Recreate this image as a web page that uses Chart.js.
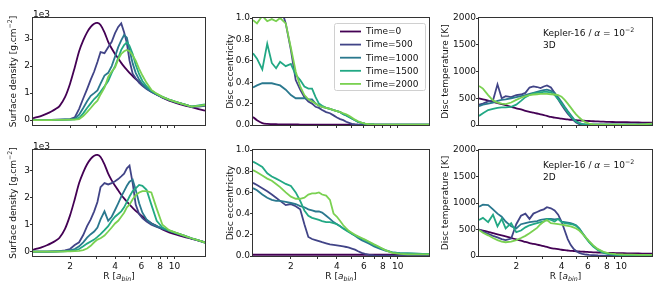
<!DOCTYPE html>
<html>
<head>
<meta charset="utf-8">
<script src="https://cdn.jsdelivr.net/npm/chart.js@4.4.1/dist/chart.umd.min.js"></script>
<style>
  html, body { margin: 0; padding: 0; background: #fff; }
  #wrap { position: relative; width: 664px; height: 291px; overflow: hidden; }
  #wrap canvas { position: absolute; }
</style>
</head>
<body>
<div id="wrap"></div>
<script>
// radial grid shared by every panel, R in units of a_bin
const radius = [1.13, 1.2, 1.3, 1.4, 1.5, 1.6, 1.7, 1.85,
  2.0, 2.15, 2.3, 2.45, 2.6, 2.75, 2.9, 3.05, 3.2,
  3.4, 3.6, 3.8, 4.0, 4.2, 4.4, 4.6, 4.8, 5.0,
  5.25, 5.5, 5.8, 6.1, 6.5, 7.0, 7.6, 8.3, 9.2, 10.3,
  11.6, 13.0, 14.5, 16];

const timeLabels = ["Time=0", "Time=500", "Time=1000", "Time=1500", "Time=2000"];
const timeColors = ["#440154", "#414487", "#2a788e", "#22a884", "#7ad151"];

const xTickValues = [2, 3, 4, 5, 6, 7, 8, 9, 10];
const xTickLabels = [2, 4, 6, 8, 10];
const sdTicks = [0, 1, 2, 3];
const eccTicks = [0, 0.2, 0.4, 0.6, 0.8, 1.0];
const tempTicks = [0, 500, 1000, 1500, 2000];

// surface density, units of 1e3 g/cm^2
const sdInit = [0.07, 0.11, 0.17, 0.24, 0.32, 0.41, 0.52, 0.85,
  1.35, 1.95, 2.55, 2.95, 3.25, 3.45, 3.57, 3.6, 3.52,
  3.25, 2.9, 2.65, 2.45, 2.28, 2.12, 1.98, 1.86, 1.75,
  1.63, 1.52, 1.41, 1.31, 1.18, 1.06, 0.95, 0.83, 0.72, 0.63,
  0.55, 0.48, 0.41, 0.35];
const sd3d500 = [0.01, 0.01, 0.01, 0.01, 0.01, 0.02, 0.02, 0.03,
  0.04, 0.1, 0.42, 0.8, 1.15, 1.5, 1.8, 2.15, 2.52,
  2.48, 2.7, 2.9, 3.22, 3.45, 3.58, 3.25, 2.85, 2.2,
  1.72, 1.55, 1.38, 1.27, 1.15, 1.04, 0.94, 0.84, 0.74, 0.66,
  0.58, 0.5, 0.5, 0.53];
const sd3d1000 = [0.01, 0.01, 0.01, 0.01, 0.01, 0.01, 0.02, 0.02,
  0.03, 0.05, 0.2, 0.45, 0.7, 0.9, 1.0, 1.1, 1.35,
  1.65, 1.75, 2.0, 2.35, 2.7, 2.95, 3.15, 3.05, 2.6,
  2.1, 1.75, 1.5, 1.33, 1.18, 1.06, 0.95, 0.85, 0.76, 0.67,
  0.58, 0.5, 0.52, 0.55];
const sd3d1500 = [0, 0, 0, 0, 0.01, 0.01, 0.01, 0.02,
  0.02, 0.03, 0.08, 0.25, 0.45, 0.62, 0.78, 0.9, 1.05,
  1.25, 1.45, 1.75, 2.0, 2.3, 2.6, 2.78, 2.88, 2.75,
  2.45, 2.05, 1.7, 1.45, 1.25, 1.1, 0.97, 0.86, 0.76, 0.67,
  0.58, 0.5, 0.55, 0.58];
const sd3d2000 = [0, 0, 0, 0, 0, 0.01, 0.01, 0.01,
  0.02, 0.02, 0.04, 0.15, 0.3, 0.45, 0.6, 0.72, 0.95,
  1.2, 1.6, 1.8, 1.95, 2.25, 2.45, 2.55, 2.6, 2.55,
  2.4, 2.2, 1.9, 1.65, 1.38, 1.12, 0.98, 0.86, 0.76, 0.67,
  0.58, 0.5, 0.53, 0.56];
const sd2d500 = [0, 0, 0, 0, 0.01, 0.01, 0.02, 0.05,
  0.1, 0.25, 0.35, 0.62, 0.95, 1.2, 1.5, 1.85, 2.4,
  2.55, 2.5, 2.55, 2.62, 2.7, 2.8, 2.9, 3.1, 3.2,
  2.55, 1.75, 1.4, 1.25, 1.12, 1.0, 0.92, 0.85, 0.77, 0.68,
  0.58, 0.49, 0.41, 0.34];
const sd2d1000 = [0, 0, 0, 0, 0, 0.01, 0.01, 0.02,
  0.05, 0.1, 0.2, 0.35, 0.52, 0.65, 0.75, 0.9, 1.2,
  1.5, 1.15, 1.3, 1.55, 1.8, 2.05, 2.25, 2.45, 2.6,
  2.68, 2.3, 1.8, 1.45, 1.2, 1.05, 0.95, 0.87, 0.78, 0.69,
  0.6, 0.5, 0.42, 0.34];
const sd2d1500 = [0, 0, 0, 0, 0, 0, 0.01, 0.01,
  0.03, 0.05, 0.1, 0.2, 0.3, 0.38, 0.45, 0.55, 0.65,
  0.8, 0.95, 1.15, 1.3, 1.4, 1.5, 1.65, 1.85, 2.05,
  2.25, 2.35, 2.48, 2.45, 2.3, 1.75, 1.15, 0.9, 0.78, 0.69,
  0.6, 0.5, 0.42, 0.34];
const sd2d2000 = [0, 0, 0, 0, 0, 0, 0, 0.01,
  0.01, 0.02, 0.03, 0.06, 0.12, 0.22, 0.35, 0.45, 0.5,
  0.6, 0.75, 0.9, 1.05, 1.15, 1.3, 1.45, 1.65, 1.75,
  1.95, 2.1, 2.2, 2.25, 2.25, 2.2, 1.6, 1.0, 0.8, 0.7,
  0.6, 0.5, 0.42, 0.34];

// disc eccentricity
const ecc3d0 = [0.075, 0.045, 0.018, 0.01, 0.008, 0.007, 0.006, 0.005,
  0.005, 0.005, 0.004, 0.004, 0.004, 0.004, 0.003, 0.003, 0.003,
  0.003, 0.003, 0.003, 0.003, 0.003, 0.003, 0.003, 0.003, 0.003,
  0.003, 0.003, 0.003, 0.003, 0.003, 0.003, 0.003, 0.003, 0.003, 0.003,
  0.003, 0.003, 0.003, 0.003];
const ecc3d500 = [1.3, 1.3, 1.3, 1.3, 1.25, 1.2, 1.12, 0.95,
  0.7, 0.42, 0.33, 0.26, 0.22, 0.2, 0.17, 0.16, 0.14,
  0.12, 0.11, 0.09, 0.07, 0.055, 0.045, 0.03, 0.02, 0.01,
  0.006, 0.003, 0.002, 0.002, 0.002, 0.002, 0.002, 0.002, 0.002, 0.002,
  0.002, 0.002, 0.002, 0.002];
const ecc3d1000 = [0.35, 0.37, 0.39, 0.39, 0.39, 0.38, 0.37, 0.33,
  0.28, 0.25, 0.25, 0.25, 0.24, 0.24, 0.2, 0.18, 0.17,
  0.16, 0.15, 0.14, 0.13, 0.12, 0.1, 0.09, 0.075, 0.06,
  0.045, 0.03, 0.02, 0.012, 0.007, 0.005, 0.004, 0.003, 0.003, 0.003,
  0.003, 0.003, 0.003, 0.003];
const ecc3d1500 = [0.67, 0.62, 0.52, 0.76, 0.58, 0.53, 0.59, 0.55,
  0.57, 0.47, 0.42, 0.36, 0.34, 0.34, 0.26, 0.2, 0.18,
  0.16, 0.15, 0.14, 0.13, 0.12, 0.1, 0.09, 0.075, 0.06,
  0.045, 0.03, 0.02, 0.012, 0.007, 0.005, 0.004, 0.003, 0.003, 0.003,
  0.003, 0.003, 0.003, 0.003];
const ecc3d2000 = [0.98, 0.95, 1.02, 0.97, 0.99, 0.97, 1.0, 0.95,
  0.72, 0.5, 0.36, 0.28, 0.24, 0.22, 0.2, 0.18, 0.17,
  0.16, 0.15, 0.14, 0.13, 0.12, 0.11, 0.1, 0.085, 0.07,
  0.05, 0.035, 0.022, 0.012, 0.007, 0.005, 0.004, 0.003, 0.003, 0.003,
  0.003, 0.003, 0.003, 0.003];
const ecc2d0 = [0.012, 0.012, 0.012, 0.012, 0.012, 0.012, 0.012, 0.012,
  0.012, 0.012, 0.012, 0.012, 0.012, 0.012, 0.012, 0.012, 0.012,
  0.012, 0.012, 0.012, 0.012, 0.012, 0.012, 0.012, 0.012, 0.012,
  0.012, 0.012, 0.012, 0.012, 0.012, 0.012, 0.012, 0.012, 0.012, 0.012,
  0.012, 0.012, 0.012, 0.012];
const ecc2d500 = [0.69, 0.67, 0.64, 0.61, 0.58, 0.55, 0.52, 0.48,
  0.49, 0.47, 0.44, 0.3, 0.18, 0.16, 0.15, 0.14, 0.13,
  0.12, 0.11, 0.105, 0.1, 0.095, 0.09, 0.085, 0.078, 0.07,
  0.06, 0.045, 0.03, 0.02, 0.01, 0.005, 0.003, 0.003, 0.003, 0.003,
  0.003, 0.003, 0.003, 0.003];
const ecc2d1000 = [0.64, 0.62, 0.58, 0.55, 0.53, 0.52, 0.52, 0.51,
  0.5, 0.49, 0.47, 0.46, 0.44, 0.43, 0.42, 0.42, 0.41,
  0.38, 0.35, 0.32, 0.3, 0.28, 0.26, 0.245, 0.23, 0.21,
  0.19, 0.17, 0.15, 0.135, 0.115, 0.09, 0.07, 0.05, 0.035, 0.028,
  0.025, 0.022, 0.02, 0.02];
const ecc2d1500 = [0.89, 0.87, 0.84, 0.78, 0.75, 0.73, 0.71, 0.68,
  0.66, 0.6, 0.52, 0.43, 0.38, 0.36, 0.35, 0.34, 0.33,
  0.32, 0.32, 0.31, 0.3, 0.28, 0.26, 0.24, 0.225, 0.21,
  0.195, 0.18, 0.165, 0.15, 0.13, 0.105, 0.08, 0.055, 0.035, 0.028,
  0.025, 0.022, 0.02, 0.02];
const ecc2d2000 = [0.81, 0.79, 0.76, 0.73, 0.71, 0.68, 0.65, 0.6,
  0.56, 0.54, 0.54, 0.55, 0.58, 0.59, 0.59, 0.6, 0.58,
  0.57, 0.53, 0.4, 0.37, 0.33, 0.29, 0.26, 0.235, 0.22,
  0.2, 0.185, 0.17, 0.155, 0.135, 0.11, 0.085, 0.055, 0.03, 0.02,
  0.015, 0.015, 0.015, 0.015];

// disc temperature, K
const tempInit = [498, 480, 455, 430, 410, 390, 370, 340,
  312, 290, 265, 245, 230, 215, 200, 185, 170,
  150, 138, 128, 118, 110, 104, 98, 94, 90,
  86, 82, 78, 75, 70, 66, 62, 58, 55, 52,
  50, 47, 45, 43];
const temp3d500 = [380, 400, 440, 460, 760, 500, 540, 520,
  560, 570, 600, 700, 720, 710, 690, 720, 740,
  700, 600, 480, 380, 290, 210, 150, 90, 45,
  15, 6, 5, 5, 5, 5, 5, 5, 5, 5,
  5, 5, 10, 20];
const temp3d1000 = [350, 380, 400, 420, 450, 470, 480, 500,
  520, 540, 560, 580, 600, 620, 640, 650, 660,
  640, 600, 520, 430, 340, 260, 190, 120, 70,
  35, 15, 8, 5, 5, 5, 5, 5, 5, 5,
  5, 5, 10, 20];
const temp3d1500 = [170, 220, 280, 300, 320, 330, 330, 340,
  380, 450, 520, 560, 590, 600, 610, 620, 620,
  610, 560, 480, 400, 320, 240, 170, 110, 65,
  35, 18, 8, 5, 5, 5, 5, 5, 5, 5,
  5, 5, 10, 20];
const temp3d2000 = [730, 680, 560, 460, 420, 400, 390, 420,
  470, 510, 540, 560, 570, 575, 580, 580, 580,
  575, 570, 560, 530, 470, 400, 330, 260, 200,
  140, 90, 50, 25, 12, 8, 6, 5, 5, 5,
  5, 8, 15, 25];
const temp2d500 = [500, 460, 420, 380, 350, 320, 300, 330,
  600, 760, 800, 700, 800, 830, 860, 880, 920,
  900, 860, 780, 650, 480, 320, 210, 140, 95,
  60, 40, 28, 20, 15, 10, 8, 6, 5, 5,
  5, 5, 5, 5];
const temp2d1000 = [930, 970, 960, 880, 800, 740, 650, 560,
  520, 600, 620, 640, 650, 660, 680, 690, 700,
  700, 690, 700, 650, 640, 630, 620, 600, 580,
  520, 440, 350, 270, 190, 120, 70, 40, 25, 18,
  15, 15, 15, 15];
const temp2d1500 = [680, 720, 640, 780, 560, 700, 520, 620,
  450, 480, 540, 580, 600, 620, 640, 650, 700,
  680, 650, 700, 640, 620, 610, 600, 590, 570,
  510, 430, 340, 260, 180, 110, 60, 35, 22, 16,
  15, 15, 15, 15];
const temp2d2000 = [490, 440, 390, 340, 300, 270, 260, 270,
  300, 340, 380, 430, 480, 530, 600, 650, 680,
  620, 610, 600, 590, 580, 570, 560, 540, 520,
  480, 420, 350, 280, 200, 130, 80, 50, 35, 28,
  25, 22, 20, 20];

const FONT = '"DejaVu Sans"';
const FS = 9;

function segFont(s, size) {
  const sz = (s.sup || s.sub) ? size * 0.7 : size;
  return (s.it ? "italic " : "") + sz + "px " + FONT;
}

// draw a run of text pieces (with super/subscripts) on a baseline
function drawRich(ctx, segs, x, y, size, align) {
  let w = 0;
  segs.forEach((s) => { ctx.font = segFont(s, size); w += ctx.measureText(s.t).width; });
  let cx = align === "center" ? x - w / 2 : x;
  ctx.textAlign = "left";
  ctx.textBaseline = "alphabetic";
  segs.forEach((s) => {
    ctx.font = segFont(s, size);
    const dy = s.sup ? -size * 0.42 : s.sub ? size * 0.25 : 0;
    ctx.fillText(s.t, cx, y + dy);
    cx += ctx.measureText(s.t).width;
  });
}

const sdTitle = [{ t: "Surface density [g.cm" }, { t: "\u22122", sup: true }, { t: "]" }];
const eccTitle = [{ t: "Disc eccentricity" }];
const tempTitle = [{ t: "Disc temperature [K]" }];
const xTitle = [{ t: "R [" }, { t: "a", it: true }, { t: "bin", it: true, sub: true }, { t: "]" }];
const kepler = [{ t: "Kepler-16 / " }, { t: "\u03b1", it: true }, { t: " = 10" }, { t: "\u22122", sup: true }];

function decor(cfg) {
  return {
    id: "decor",
    afterDraw(chart) {
      const ctx = chart.ctx;
      const a = chart.chartArea;
      ctx.save();
      // spines
      ctx.strokeStyle = "#333";
      ctx.lineWidth = 1;
      ctx.strokeRect(Math.round(a.left) - 0.5, Math.round(a.top) - 0.5,
        Math.round(a.right - a.left) + 1, Math.round(a.bottom - a.top) + 1);
      ctx.fillStyle = "#111";
      // y title, rotated
      ctx.save();
      ctx.translate(a.left - cfg.titleOff, (a.top + a.bottom) / 2);
      ctx.rotate(-Math.PI / 2);
      drawRich(ctx, cfg.yTitle, 0, FS * 0.36, FS, "center");
      ctx.restore();
      if (cfg.offsetText) {
        ctx.font = FS + "px " + FONT;
        ctx.textAlign = "left";
        ctx.textBaseline = "alphabetic";
        ctx.fillText(cfg.offsetText, a.left, a.top - 1.5);
      }
      if (cfg.xTitle) drawRich(ctx, xTitle, (a.left + a.right) / 2, a.bottom + 23, FS, "center");
      if (cfg.note) {
        drawRich(ctx, kepler, a.left + 64, a.top + 18, FS, "left");
        drawRich(ctx, [{ t: cfg.note }], a.left + 64, a.top + 30, FS, "left");
      }
      if (cfg.legend) {
        const lx = a.left + 81, ly = a.top + 5, lw = a.right - 4 - lx, lh = 67;
        ctx.fillStyle = "rgba(255,255,255,0.85)";
        ctx.strokeStyle = "#d0d0d0";
        ctx.beginPath();
        ctx.roundRect(lx + 0.5, ly + 0.5, lw, lh, 2);
        ctx.fill();
        ctx.stroke();
        timeLabels.forEach((lab, i) => {
          const yy = ly + 8.5 + i * 13.1;
          ctx.strokeStyle = timeColors[i];
          ctx.lineWidth = 1.8;
          ctx.beginPath();
          ctx.moveTo(lx + 6, yy);
          ctx.lineTo(lx + 27, yy);
          ctx.stroke();
          ctx.fillStyle = "#111";
          ctx.font = FS + "px " + FONT;
          ctx.textBaseline = "middle";
          ctx.fillText(lab, lx + 32, yy + 0.5);
        });
      }
      ctx.restore();
    },
  };
}

function panel(p) {
  const canvas = document.createElement("canvas");
  canvas.width = p.w;
  canvas.height = p.h;
  canvas.style.left = p.left + "px";
  canvas.style.top = p.top + "px";
  document.getElementById("wrap").appendChild(canvas);

  const datasets = p.series.map((vals, i) => ({
    label: timeLabels[i],
    data: radius.map((r, k) => ({ x: r, y: vals[k] })),
    borderColor: timeColors[i],
    borderWidth: 1.8,
    pointRadius: 0,
    fill: false,
    tension: i === 0 ? 0.3 : 0,
    order: p.series.length - i,
  }));

  new Chart(canvas, {
    type: "line",
    data: { datasets },
    plugins: [decor(p.deco)],
    options: {
      responsive: false,
      animation: false,
      events: [],
      layout: { padding: { left: 0, top: p.padTop, right: p.padRight, bottom: 0 } },
      plugins: { legend: { display: false }, tooltip: { enabled: false } },
      scales: {
        x: {
          type: "logarithmic",
          min: 1.13,
          max: 16,
          afterBuildTicks: (s) => { s.ticks = xTickValues.map((v) => ({ value: v })); },
          afterFit: (s) => { s.height = p.xH; },
          ticks: {
            autoSkip: false, maxRotation: 0, minRotation: 0, padding: 2, color: "#111",
            font: { family: "DejaVu Sans", size: FS },
            callback: (v) => (p.xLabels && xTickLabels.includes(v) ? String(v) : ""),
          },
          grid: { drawOnChartArea: false, drawTicks: true, tickLength: 3, color: "#333" },
          border: { display: false },
        },
        y: {
          type: "linear",
          min: p.yMin,
          max: p.yMax,
          afterBuildTicks: (s) => { s.ticks = p.yTicks.map((v) => ({ value: v })); },
          afterFit: (s) => { s.width = p.yW; },
          ticks: {
            padding: 0, color: "#111",
            font: { family: "DejaVu Sans", size: FS },
            callback: p.yFmt,
          },
          grid: { drawOnChartArea: false, drawTicks: true, tickLength: 3, color: "#333" },
          border: { display: false },
        },
      },
    },
  });
}

const cols = [
  { left: 0, w: 210, yW: 33, padRight: 5 },
  { left: 212, w: 222, yW: 41, padRight: 5 },
  { left: 437, w: 221, yW: 42, padRight: 6 },
];
const rows = [
  { top: 0, h: 135, padTop: 18, xH: 10, xLabels: false },
  { top: 135, h: 156, padTop: 15, xH: 35, xLabels: true },
];

const sdFmt = (v) => String(v);
const eccFmt = (v) => v.toFixed(1);
const tempFmt = (v) => String(v);

const grid = [
  [
    { series: [sdInit, sd3d500, sd3d1000, sd3d1500, sd3d2000], yMin: -0.18, yMax: 3.78, yTicks: sdTicks, yFmt: sdFmt,
      deco: { yTitle: sdTitle, titleOff: 20, offsetText: "1e3" } },
    { series: [ecc3d0, ecc3d500, ecc3d1000, ecc3d1500, ecc3d2000], yMin: 0, yMax: 1, yTicks: eccTicks, yFmt: eccFmt,
      deco: { yTitle: eccTitle, titleOff: 23, legend: true } },
    { series: [tempInit, temp3d500, temp3d1000, temp3d1500, temp3d2000], yMin: 0, yMax: 2000, yTicks: tempTicks, yFmt: tempFmt,
      deco: { yTitle: tempTitle, titleOff: 34, note: "3D" } },
  ],
  [
    { series: [sdInit, sd2d500, sd2d1000, sd2d1500, sd2d2000], yMin: -0.16, yMax: 3.78, yTicks: sdTicks, yFmt: sdFmt,
      deco: { yTitle: sdTitle, titleOff: 20, offsetText: "1e3", xTitle: true } },
    { series: [ecc2d0, ecc2d500, ecc2d1000, ecc2d1500, ecc2d2000], yMin: 0, yMax: 1, yTicks: eccTicks, yFmt: eccFmt,
      deco: { yTitle: eccTitle, titleOff: 23, xTitle: true } },
    { series: [tempInit, temp2d500, temp2d1000, temp2d1500, temp2d2000], yMin: 0, yMax: 2000, yTicks: tempTicks, yFmt: tempFmt,
      deco: { yTitle: tempTitle, titleOff: 34, note: "2D", xTitle: true } },
  ],
];

grid.forEach((row, r) => {
  row.forEach((cell, c) => {
    panel(Object.assign({}, cols[c], rows[r], cell));
  });
});
</script>
</body>
</html>
